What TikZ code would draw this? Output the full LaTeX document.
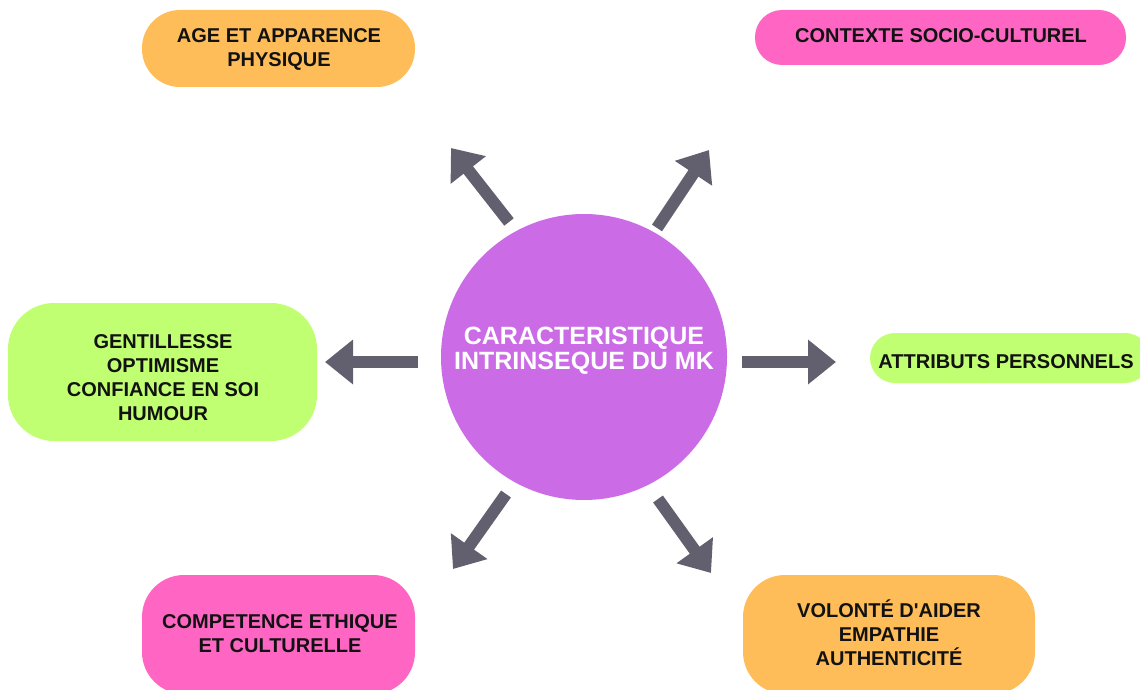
\documentclass[tikz,border=0pt]{standalone}
\usepackage{fontspec}
\setmainfont{Liberation Sans}[Ligatures=TeXOff]
\usetikzlibrary{arrows.meta}
\definecolor{ctrpurple}{HTML}{CB6CE6}
\definecolor{boxorange}{HTML}{FFBD59}
\definecolor{boxpink}{HTML}{FF66C4}
\definecolor{boxgreen}{HTML}{C1FF72}
\definecolor{arrowgrey}{HTML}{625F6F}
\definecolor{ink}{HTML}{121212}
\tikzset{
  label text/.style={text=ink, font=\fontsize{20}{24}\selectfont\bfseries, align=center, inner sep=0pt},
  hub text/.style={text=white, font=\fontsize{25}{25}\selectfont\bfseries, align=center, inner sep=0pt},
  blockarrow/.style={draw=arrowgrey, line width=12pt, -{Triangle[length=28pt, width=43pt]}},
}
\begin{document}
\begin{tikzpicture}[x=1pt, y=-1pt]
  \useasboundingbox (0,0) rectangle (1140,690);

  % coloured boxes
  \fill[boxorange, rounded corners=38pt] (142,10) rectangle (415,87);
  \fill[boxpink, rounded corners=27pt]   (755,10) rectangle (1126,65);
  \fill[boxgreen, rounded corners=46pt]  (8,303) rectangle (317,441);
  \fill[boxgreen, rounded corners=25pt]  (870,333) rectangle (1150,383);
  \fill[boxpink, rounded corners=42pt]   (142,575) rectangle (415,694);
  \fill[boxorange, rounded corners=42pt] (743,575) rectangle (1035,694);

  % central disc
  \node[circle, fill=ctrpurple, minimum size=286pt, inner sep=0pt] (hub) at (584,357) {};
  \node[hub text] (hubtxt) at (584,351) {CARACTERISTIQUE\\INTRINSEQUE DU MK};

  % box labels
  \node[label text] (age)    at (279,49)  {AGE ET APPARENCE\\PHYSIQUE};
  \node[label text] (socio)  at (941,36)  {CONTEXTE SOCIO-CULTUREL};
  \node[label text] (gentil) at (163,378) {GENTILLESSE\\OPTIMISME\\CONFIANCE EN SOI\\HUMOUR};
  \node[label text] (attr)   at (1006,362) {ATTRIBUTS PERSONNELS};
  \node[label text] (comp)   at (280,634) {COMPETENCE ETHIQUE\\ET CULTURELLE};
  \node[label text] (volon)  at (889,633) {VOLONTÉ D'AIDER\\EMPATHIE\\AUTHENTICITÉ};

  % arrow end points around the disc
  \coordinate (lS) at (418,362); \coordinate (lE) at (325,362);
  \coordinate (rS) at (742,362); \coordinate (rE) at (836,362);
  \coordinate (ulS) at (509,222); \coordinate (ulE) at (451,148);
  \coordinate (urS) at (657,228); \coordinate (urE) at (709,150);
  \coordinate (dlS) at (506,494); \coordinate (dlE) at (453,569);
  \coordinate (drS) at (658,499); \coordinate (drE) at (711,573);

  % grey block arrows
  \draw[blockarrow] (lS) -- (lE);
  \draw[blockarrow] (rS) -- (rE);
  \draw[blockarrow] (ulS) -- (ulE);
  \draw[blockarrow] (urS) -- (urE);
  \draw[blockarrow] (dlS) -- (dlE);
  \draw[blockarrow] (drS) -- (drE);
\end{tikzpicture}
\end{document}
